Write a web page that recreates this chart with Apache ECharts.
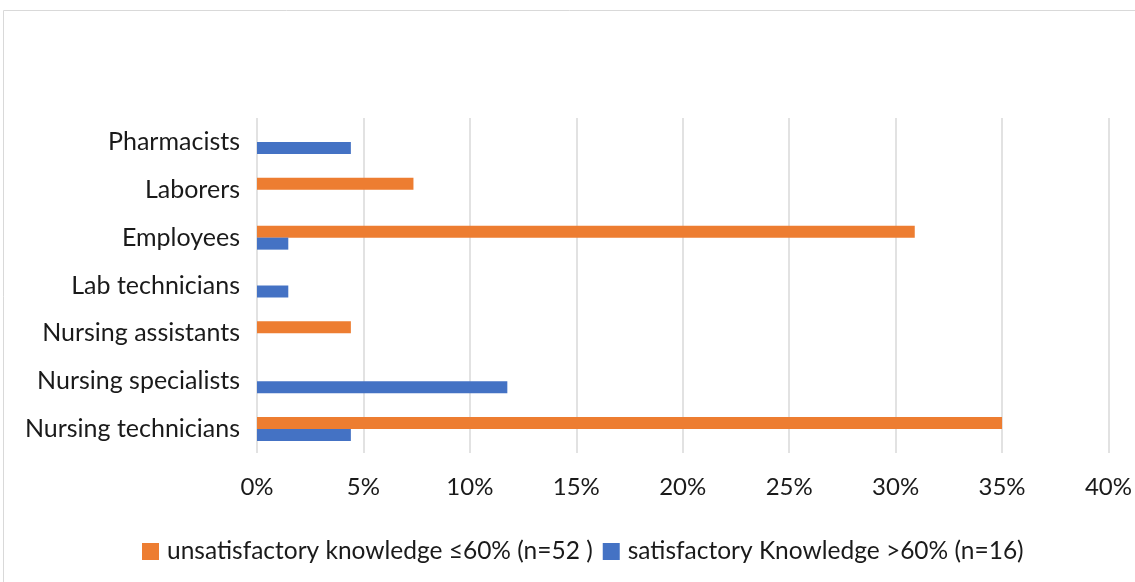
<!DOCTYPE html>
<html><head><meta charset="utf-8">
<script src="https://cdn.jsdelivr.net/npm/echarts@6/dist/echarts.min.js"></script>
<style>html,body{margin:0;padding:0;background:#fff}#c{width:1135px;height:582px}</style>
</head><body><div id="c"></div>
<script>
const categories = ['Nursing technicians','Nursing specialists','Nursing assistants','Lab technicians','Employees','Laborers','Pharmacists'];
const unsatisfactory = [35.0, null, 4.41, null, 30.9, 7.35, null];
const satisfactory = [4.41, 11.76, null, 1.47, 1.47, null, 4.41];
const seriesNames = ['unsatisfactory knowledge \u226460% (n=52 )', 'satisfactory Knowledge >60% (n=16)'];
const FONT = 'Lato';
const chart = echarts.init(document.getElementById('c'));
chart.setOption({
  animation: false,
  textStyle: {fontFamily: FONT},
  graphic: [{type:'rect', shape:{x:3.5,y:10.5,width:1140,height:580}, style:{fill:'none', stroke:'#d9d9d9', lineWidth:1}, silent:true}],
  grid: {left:257, right:26, top:118, bottom:129},
  legend: {
    top: 534, left: 137, itemWidth: 17, itemHeight: 17, itemGap: 10, icon: 'rect',
    textStyle: {fontFamily: FONT, fontSize: 24.5, color: '#1a1a1a', padding: [0,0,0,3]},
    data: seriesNames
  },
  xAxis: {
    type: 'value', min: 0, max: 40, interval: 5,
    axisLabel: {formatter: '{value}%', fontSize: 24, color: '#1a1a1a', margin: 22, fontFamily: FONT},
    axisLine: {show:false}, axisTick: {show:false},
    splitLine: {lineStyle: {color: '#d9d9d9', width: 1.5}}
  },
  yAxis: {
    type: 'category', data: categories,
    axisLabel: {fontSize: 25, color: '#1a1a1a', margin: 17, fontFamily: FONT},
    axisLine: {show:false}, axisTick: {show:false}
  },
  series: [
    {name: seriesNames[0], type:'bar', data: unsatisfactory, barWidth: 12, barGap: '0%', itemStyle:{color:'#ed7d31'}},
    {name: seriesNames[1], type:'bar', data: satisfactory, barWidth: 12, barGap: '0%', itemStyle:{color:'#4472c4'}}
  ]
});
</script></body></html>
